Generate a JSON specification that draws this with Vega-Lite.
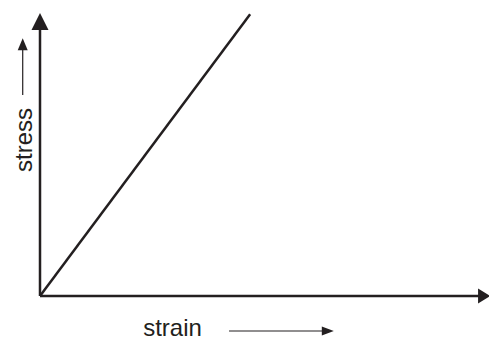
{
  "$schema": "https://vega.github.io/schema/vega-lite/v6.json",
  "width": 449,
  "height": 283,
  "autosize": {"type": "none"},
  "padding": {"left": 40, "top": 13, "right": 0, "bottom": 44},
  "background": "white",
  "config": {"view": {"stroke": null}},
  "datasets": {
    "curve": [{"strain": 0, "stress": 0}, {"strain": 4.68, "stress": 9.96}],
    "axes": [
      {"x": 0, "y": 0, "x2": 0, "y2": 9.5},
      {"x": 0, "y": 0, "x2": 9.8, "y2": 0}
    ],
    "pointers": [
      {"x": -0.385, "y": 7.1, "x2": -0.385, "y2": 8.7},
      {"x": 4.21, "y": -1.237, "x2": 6.3, "y2": -1.237}
    ],
    "headYAxis": [{"x": 0, "y": 9.7}],
    "headXAxis": [{"x": 9.89, "y": 0}],
    "headStress": [{"x": -0.385, "y": 8.9}],
    "headStrain": [{"x": 6.41, "y": -1.237}]
  },
  "layer": [
    {
      "data": {"name": "curve"},
      "mark": {"type": "line", "color": "#231f20", "strokeWidth": 2.5},
      "encoding": {
        "x": {
          "field": "strain", "type": "quantitative",
          "scale": {"domain": [0, 10], "nice": false, "zero": false},
          "axis": {"domain": false, "ticks": false, "labels": false, "grid": false,
                   "title": "strain", "titleFont": "Liberation Sans", "titleFontSize": 24,
                   "titleFontWeight": "normal", "titleColor": "#231f20",
                   "titleAlign": "center", "titleBaseline": "alphabetic",
                   "titleX": 132, "titleY": 39}
        },
        "y": {
          "field": "stress", "type": "quantitative",
          "scale": {"domain": [0, 10], "nice": false, "zero": false},
          "axis": {"domain": false, "ticks": false, "labels": false, "grid": false,
                   "title": "stress", "titleFont": "Liberation Sans", "titleFontSize": 24,
                   "titleFontWeight": "normal", "titleColor": "#231f20",
                   "titleAlign": "center", "titleBaseline": "alphabetic", "titleAngle": -90,
                   "titleX": -9, "titleY": 126.5}
        }
      }
    },
    {
      "data": {"name": "axes"},
      "mark": {"type": "rule", "color": "#231f20", "strokeWidth": 2.5},
      "encoding": {
        "x": {"field": "x", "type": "quantitative"},
        "y": {"field": "y", "type": "quantitative"},
        "x2": {"field": "x2"},
        "y2": {"field": "y2"}
      }
    },
    {
      "data": {"name": "pointers"},
      "mark": {"type": "rule", "color": "#231f20", "strokeWidth": 1.2},
      "encoding": {
        "x": {"field": "x", "type": "quantitative"},
        "y": {"field": "y", "type": "quantitative"},
        "x2": {"field": "x2"},
        "y2": {"field": "y2"}
      }
    },
    {
      "data": {"name": "headYAxis"},
      "mark": {"type": "point", "shape": "M-1,1L0,-1L1,1Z", "filled": true, "color": "#231f20", "opacity": 1, "size": 289},
      "encoding": {
        "x": {"field": "x", "type": "quantitative"},
        "y": {"field": "y", "type": "quantitative"}
      }
    },
    {
      "data": {"name": "headXAxis"},
      "mark": {"type": "point", "shape": "M-1,-1.25L1,0L-1,1.25Z", "filled": true, "color": "#231f20", "opacity": 1, "size": 144},
      "encoding": {
        "x": {"field": "x", "type": "quantitative"},
        "y": {"field": "y", "type": "quantitative"}
      }
    },
    {
      "data": {"name": "headStress"},
      "mark": {"type": "point", "shape": "M-1,1.2L0,-1.2L1,1.2Z", "filled": true, "color": "#231f20", "opacity": 1, "size": 100},
      "encoding": {
        "x": {"field": "x", "type": "quantitative"},
        "y": {"field": "y", "type": "quantitative"}
      }
    },
    {
      "data": {"name": "headStrain"},
      "mark": {"type": "point", "shape": "M-1,-0.75L1,0L-1,0.75Z", "filled": true, "color": "#231f20", "opacity": 1, "size": 144},
      "encoding": {
        "x": {"field": "x", "type": "quantitative"},
        "y": {"field": "y", "type": "quantitative"}
      }
    }
  ]
}
